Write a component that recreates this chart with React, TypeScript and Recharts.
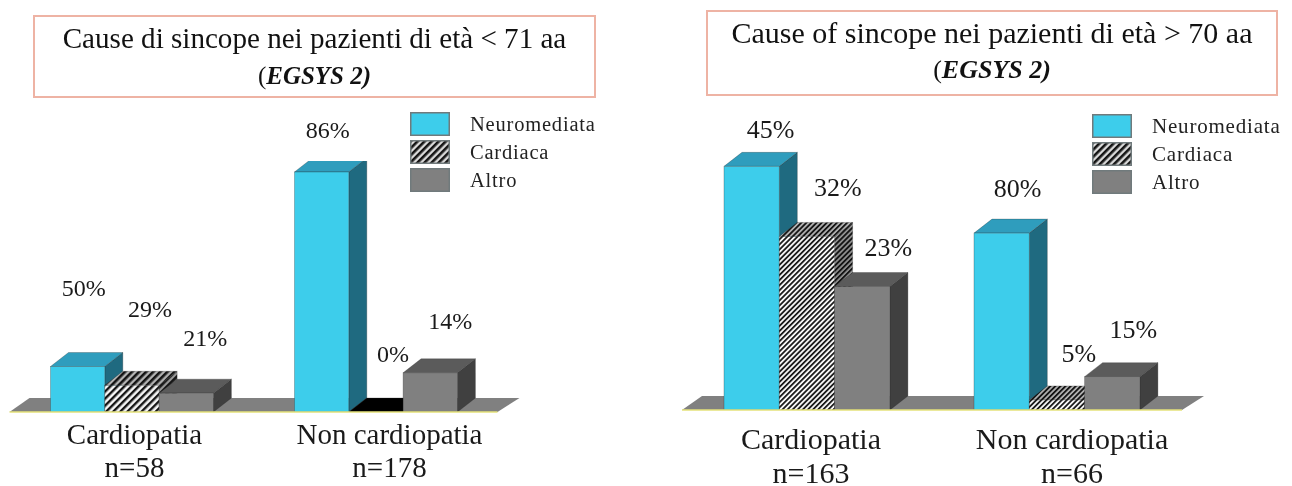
import React from "react";
import { Bar, BarChart, LabelList, Legend, ReferenceArea, XAxis, YAxis } from "recharts";

const seriesNames = ["Neuromediata", "Cardiaca", "Altro"];
const serif = "'Liberation Serif', 'Times New Roman', serif";

// left panel: patient counts drive the bar heights, percentages are the printed labels
const youngCategories = ["Cardiopatia", "Non cardiopatia"];
const youngSizes = ["n=58", "n=178"];
const youngNeuro = [29, 153];
const youngCardiac = [17, 0];
const youngOther = [12, 25];
const youngNeuroPct = ["50%", "86%"];
const youngCardiacPct = ["29%", "0%"];
const youngOtherPct = ["21%", "14%"];

// right panel
const oldCategories = ["Cardiopatia", "Non cardiopatia"];
const oldSizes = ["n=163", "n=66"];
const oldNeuro = [73, 53];
const oldCardiac = [52, 3];
const oldOther = [37, 10];
const oldNeuroPct = ["45%", "80%"];
const oldCardiacPct = ["32%", "5%"];
const oldOtherPct = ["23%", "15%"];

const makePalettes = (id: string) => [
  { front: "#3dcdeb", top: "#2f9dbd", side: "#1f6a80" },
  { front: `url(#${id}Hatch)`, top: `url(#${id}HatchTop)`, side: `url(#${id}HatchSide)` },
  { front: "#808080", top: "#5b5b5b", side: "#404040" },
];

const DX = 18;
const DY = 14;
const edge = { stroke: "rgba(40,40,40,0.35)", strokeWidth: 0.8 };

const makeBar3D = (palette: any) => (props: any) => {
  const { x, y, width, height } = props;
  const r = x + width;
  const b = y + height;
  // an empty bar leaves a black footprint on the floor
  const topFill = height < 1 ? "#000" : palette.top;
  return (
    <g>
      <polygon points={`${r},${y} ${r + DX},${y - DY} ${r + DX},${b - DY} ${r},${b}`} fill={palette.side} {...edge} />
      <polygon points={`${x},${y} ${x + DX},${y - DY} ${r + DX},${y - DY} ${r},${y}`} fill={topFill} {...edge} />
      <rect x={x} y={y} width={width} height={height} fill={palette.front} {...edge} />
    </g>
  );
};

const Floor = (props: any) => {
  const { x, y, width, height } = props;
  return (
    <polygon
      points={`${x},${y + height} ${x + DX + 2},${y} ${x + width + DX + 4},${y} ${x + width},${y + height}`}
      fill="#808080"
    />
  );
};

const PatternDefs = ({ id, size }: any) => (
  <defs>
    <pattern id={`${id}Hatch`} width={size} height={size} patternUnits="userSpaceOnUse" patternTransform="rotate(45)">
      <rect width={size} height={size} fill="#f6f6f6" />
      <rect width={size * 0.48} height={size} fill="#141414" />
    </pattern>
    <pattern id={`${id}HatchTop`} width={size} height={size} patternUnits="userSpaceOnUse" patternTransform="rotate(45)">
      <rect width={size} height={size} fill="#b4b4b4" />
      <rect width={size * 0.52} height={size} fill="#141414" />
    </pattern>
    <pattern id={`${id}HatchSide`} width={size} height={size} patternUnits="userSpaceOnUse" patternTransform="rotate(45)">
      <rect width={size} height={size} fill="#9a9a9a" />
      <rect width={size * 0.55} height={size} fill="#141414" />
    </pattern>
    <pattern id={`${id}HatchKey`} width={5} height={5} patternUnits="userSpaceOnUse" patternTransform="rotate(45)">
      <rect width={5} height={5} fill="#dcdcdc" />
      <rect width={2.6} height={5} fill="#141414" />
    </pattern>
  </defs>
);

const makeLegendList = (id: string, fontSize: number, spacing: number) => ({ payload }: any) => (
  <div>
    {(payload || []).map((entry: any) => (
      <div key={entry.value} style={{ display: "flex", alignItems: "center", height: 28 }}>
        <svg width={40} height={24} style={{ display: "block" }}>
          <rect
            x={0.75}
            y={0.75}
            width={38.5}
            height={22.5}
            fill={entry.value === "Cardiaca" ? `url(#${id}HatchKey)` : entry.color}
            stroke="#707a7c"
            strokeWidth={1.5}
          />
        </svg>
        <span
          style={{
            marginLeft: 20,
            fontFamily: serif,
            fontSize,
            letterSpacing: spacing,
            color: "#222",
            lineHeight: "24px",
            whiteSpace: "nowrap",
          }}
        >
          {entry.value}
        </span>
      </div>
    ))}
  </div>
);

const Panel = (p: any) => {
  const palettes = makePalettes(p.id);
  const data = p.categories.map((name: string, i: number) => ({
    name,
    size: p.sizes[i],
    s0: p.values[0][i],
    s1: p.values[1][i],
    s2: p.values[2][i],
    l0: p.labels[0][i],
    l1: p.labels[1][i],
    l2: p.labels[2][i],
  }));

  const Tick = ({ x, y, payload, index }: any) => (
    <g fontFamily={serif} fontSize={p.tickFont} fill="#1a1a1a" textAnchor="middle">
      <text x={x + p.tickShift[index]} y={y + p.tickGap}>
        {payload.value}
      </text>
      <text x={x + p.tickShift[index]} y={y + p.tickGap + p.lineGap}>
        {data[index].size}
      </text>
    </g>
  );

  const valueLabel = (series: number) => (props: any) => {
    const { x, y, width, value, index } = props;
    const [dx, dy] = p.labelNudge[series][index];
    return (
      <text
        x={x + width / 2 + dx}
        y={y + dy}
        fontFamily={serif}
        fontSize={p.labelFont}
        fill="#1a1a1a"
        textAnchor="middle"
        dominantBaseline="central"
      >
        {value}
      </text>
    );
  };

  return (
    <div style={{ position: "absolute", left: p.left, top: 0, width: p.width, height: 486 }}>
      <BarChart
        width={p.width}
        height={486}
        data={data}
        barGap={0}
        barSize={p.barWidth}
        margin={{ top: p.plotTop, left: p.plotLeft, right: p.width - p.plotRight, bottom: 0 }}
      >
        <PatternDefs id={p.id} size={p.hatchSize} />
        <YAxis hide domain={[0, p.yMax]} allowDataOverflow />
        <XAxis
          dataKey="name"
          height={486 - p.baseline}
          axisLine={{ stroke: "#e4e27a", strokeWidth: 1.5 }}
          tickLine={false}
          interval={0}
          tick={Tick}
        />
        <ReferenceArea y1={0} y2={p.floorDepth} shape={Floor} ifOverflow="visible" />
        <Legend
          layout="vertical"
          align="center"
          verticalAlign="middle"
          itemSorter={null}
          content={makeLegendList(p.id, p.legendFont, p.legendSpacing) as any}
          wrapperStyle={{ left: p.legendLeft, top: p.legendTop, width: 235 }}
        />
        {seriesNames.map((name, i) => (
          <Bar
            key={name}
            name={name}
            dataKey={`s${i}`}
            fill={palettes[i].front}
            shape={makeBar3D(palettes[i])}
            isAnimationActive={false}
          >
            <LabelList dataKey={`l${i}`} content={valueLabel(i)} />
          </Bar>
        ))}
      </BarChart>
    </div>
  );
};

const TitleBox = ({ left, top, width, height, title, size, subSize, gap }: any) => (
  <div
    style={{
      position: "absolute",
      left,
      top,
      width,
      height,
      boxSizing: "border-box",
      border: "2px solid #eeb3a4",
      textAlign: "center",
      fontFamily: serif,
      color: "#111",
      whiteSpace: "nowrap",
    }}
  >
    <div style={{ fontSize: size, lineHeight: "34px", marginTop: 4 }}>{title}</div>
    <div style={{ fontSize: subSize, lineHeight: "30px", marginTop: gap }}>
      (<i style={{ fontWeight: 700 }}>EGSYS 2)</i>
    </div>
  </div>
);

export default function App() {
  return (
    <div
      style={{
        position: "absolute",
        left: 0,
        top: 0,
        width: 1292,
        height: 486,
        background: "#fff",
        overflow: "hidden",
        filter: "blur(0.4px)",
      }}
    >
      <Panel
        id="young"
        left={0}
        width={646}
        plotLeft={9.5}
        plotRight={497.5}
        plotTop={161}
        baseline={412}
        barWidth={54.3}
        yMax={160}
        floorDepth={9}
        hatchSize={5}
        labelFont={24}
        tickFont={29}
        legendFont={20.5}
        legendSpacing={0.8}
        categories={youngCategories}
        sizes={youngSizes}
        values={[youngNeuro, youngCardiac, youngOther]}
        labels={[youngNeuroPct, youngCardiacPct, youngOtherPct]}
        labelNudge={[
          [[6, -79], [6, -42]],
          [[18, -76], [17, -58]],
          [[19, -55], [20, -52]],
        ]}
        tickShift={[3, 14]}
        tickGap={24}
        lineGap={33}
        legendLeft={410}
        legendTop={110}
      />
      <Panel
        id="old"
        left={646}
        width={646}
        plotLeft={36}
        plotRight={536}
        plotTop={143}
        baseline={410}
        barWidth={55.3}
        yMax={80}
        floorDepth={4.2}
        hatchSize={3.6}
        labelFont={26}
        tickFont={30}
        legendFont={21}
        legendSpacing={0.8}
        categories={oldCategories}
        sizes={oldSizes}
        values={[oldNeuro, oldCardiac, oldOther]}
        labels={[oldNeuroPct, oldCardiacPct, oldOtherPct]}
        labelNudge={[
          [[19, -37], [16, -45]],
          [[31, -49], [22, -46]],
          [[26, -39], [21, -47]],
        ]}
        tickShift={[4, 15]}
        tickGap={31}
        lineGap={34}
        legendLeft={446}
        legendTop={112}
      />
      <TitleBox left={33} top={15} width={563} height={83} title="Cause di sincope nei pazienti di età < 71 aa" size={29.1} subSize={25} gap={6} />
      <TitleBox left={706} top={10} width={572} height={86} title="Cause of sincope nei pazienti di età > 70 aa" size={30} subSize={26} gap={5} />
    </div>
  );
}
